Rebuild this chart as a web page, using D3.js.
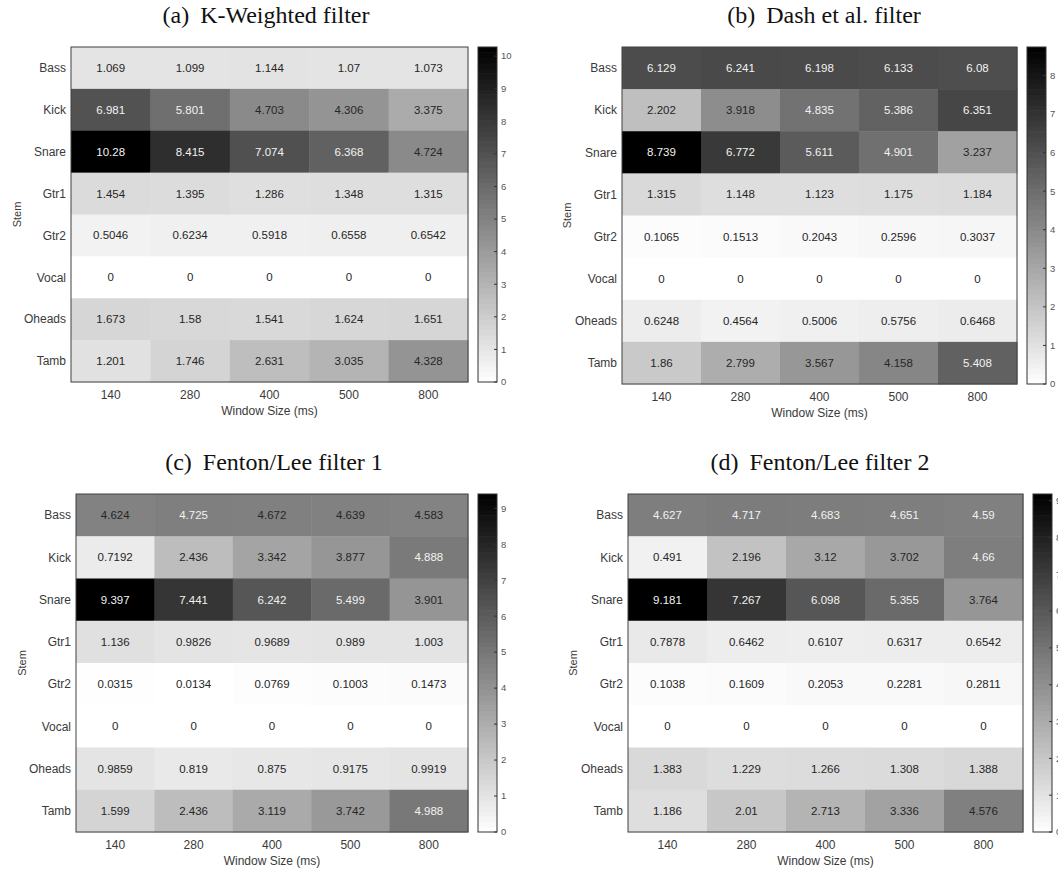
<!DOCTYPE html>
<html>
<head>
<meta charset="utf-8">
<script src="https://cdn.jsdelivr.net/npm/d3@7"></script>
<style>
  html, body { margin: 0; padding: 0; background: #fff; }
  svg { display: block; }
</style>
</head>
<body>
<svg id="fig" width="1058" height="870"></svg>
<script>
// Stems (rows) and analysis window sizes (columns)
const stems = ["Bass", "Kick", "Snare", "Gtr1", "Gtr2", "Vocal", "Oheads", "Tamb"];
const windowSizes = ["140", "280", "400", "500", "800"];

// (a) K-Weighted filter
const kWeighted = [
  [1.069, 1.099, 1.144, 1.07, 1.073],
  [6.981, 5.801, 4.703, 4.306, 3.375],
  [10.28, 8.415, 7.074, 6.368, 4.724],
  [1.454, 1.395, 1.286, 1.348, 1.315],
  [0.5046, 0.6234, 0.5918, 0.6558, 0.6542],
  [0, 0, 0, 0, 0],
  [1.673, 1.58, 1.541, 1.624, 1.651],
  [1.201, 1.746, 2.631, 3.035, 4.328]
];

// (b) Dash et al. filter
const dashFilter = [
  [6.129, 6.241, 6.198, 6.133, 6.08],
  [2.202, 3.918, 4.835, 5.386, 6.351],
  [8.739, 6.772, 5.611, 4.901, 3.237],
  [1.315, 1.148, 1.123, 1.175, 1.184],
  [0.1065, 0.1513, 0.2043, 0.2596, 0.3037],
  [0, 0, 0, 0, 0],
  [0.6248, 0.4564, 0.5006, 0.5756, 0.6468],
  [1.86, 2.799, 3.567, 4.158, 5.408]
];

// (c) Fenton/Lee filter 1
const fentonLee1 = [
  [4.624, 4.725, 4.672, 4.639, 4.583],
  [0.7192, 2.436, 3.342, 3.877, 4.888],
  [9.397, 7.441, 6.242, 5.499, 3.901],
  [1.136, 0.9826, 0.9689, 0.989, 1.003],
  [0.0315, 0.0134, 0.0769, 0.1003, 0.1473],
  [0, 0, 0, 0, 0],
  [0.9859, 0.819, 0.875, 0.9175, 0.9919],
  [1.599, 2.436, 3.119, 3.742, 4.988]
];

// (d) Fenton/Lee filter 2
const fentonLee2 = [
  [4.627, 4.717, 4.683, 4.651, 4.59],
  [0.491, 2.196, 3.12, 3.702, 4.66],
  [9.181, 7.267, 6.098, 5.355, 3.764],
  [0.7878, 0.6462, 0.6107, 0.6317, 0.6542],
  [0.1038, 0.1609, 0.2053, 0.2281, 0.2811],
  [0, 0, 0, 0, 0],
  [1.383, 1.229, 1.266, 1.308, 1.388],
  [1.186, 2.01, 2.713, 3.336, 4.576]
];

const panelTags = ["(a)", "(b)", "(c)", "(d)"];
const panelNames = ["K-Weighted filter", "Dash et al. filter", "Fenton/Lee filter 1", "Fenton/Lee filter 2"];
const panelData = [kWeighted, dashFilter, fentonLee1, fentonLee2];

// Layout of each subplot: heatmap box, colorbar x-extent, title centre, y-label x
const layout = [
  { hm: [71, 47, 468, 382],   cb: [478, 497],   titleX: 266, titleY: 23,  stemX: 17 },
  { hm: [622, 47, 1017, 384], cb: [1027, 1046], titleX: 824, titleY: 23,  stemX: 567 },
  { hm: [76, 494, 468, 832],  cb: [478, 497],   titleX: 274, titleY: 470, stemX: 22 },
  { hm: [628, 494, 1023, 832], cb: [1033, 1052], titleX: 820, titleY: 470, stemX: 573 }
];

const SANS = "'Liberation Sans', Arial, Helvetica, sans-serif";
const SERIF = "'Liberation Serif', 'Times New Roman', serif";

const svg = d3.select("#fig");

panelData.forEach((data, i) => {
  const L = layout[i];
  const [x0, y0, x1, y1] = L.hm;
  const vmax = d3.max(data.flat());
  const g = svg.append("g");

  const x = d3.scaleBand().domain(windowSizes).range([x0, x1]);
  const y = d3.scaleBand().domain(stems).range([y0, y1]);
  // white (0) to black (max) grey ramp
  const shade = d3.scaleLinear().domain([0, vmax]).range([1, 0]).clamp(true);
  const grey = v => { const c = Math.round(shade(v) * 255); return `rgb(${c},${c},${c})`; };

  const cells = [];
  data.forEach((row, r) => row.forEach((v, c) => cells.push({ stem: stems[r], win: windowSizes[c], v })));

  g.selectAll("rect.cell").data(cells).join("rect")
    .attr("class", "cell")
    .attr("x", d => x(d.win))
    .attr("y", d => y(d.stem))
    .attr("width", x.bandwidth() + 0.5)
    .attr("height", y.bandwidth() + 0.5)
    .attr("fill", d => grey(d.v));

  g.selectAll("text.val").data(cells).join("text")
    .attr("class", "val")
    .attr("x", d => x(d.win) + x.bandwidth() / 2)
    .attr("y", d => y(d.stem) + y.bandwidth() / 2)
    .attr("dy", "0.35em")
    .attr("text-anchor", "middle")
    .attr("font-family", SANS)
    .attr("font-size", 11.5)
    .attr("fill", d => d.v / vmax >= 0.499 ? "#f2f2f2" : "#262626")
    .text(d => d.v);

  g.append("rect")
    .attr("x", x0).attr("y", y0)
    .attr("width", x1 - x0).attr("height", y1 - y0)
    .attr("fill", "none").attr("stroke", "#404040").attr("stroke-width", 1);

  // row labels
  g.selectAll("text.row").data(stems).join("text")
    .attr("class", "row")
    .attr("x", x0 - 5)
    .attr("y", d => y(d) + y.bandwidth() / 2)
    .attr("dy", "0.35em")
    .attr("text-anchor", "end")
    .attr("font-family", SANS).attr("font-size", 12).attr("fill", "#3a3a3a")
    .text(d => d);

  // column labels
  g.selectAll("text.col").data(windowSizes).join("text")
    .attr("class", "col")
    .attr("x", d => x(d) + x.bandwidth() / 2)
    .attr("y", y1 + 13)
    .attr("dy", "0.35em")
    .attr("text-anchor", "middle")
    .attr("font-family", SANS).attr("font-size", 12).attr("fill", "#3a3a3a")
    .text(d => d);

  g.append("text")
    .attr("x", (x0 + x1) / 2).attr("y", y1 + 29)
    .attr("dy", "0.35em").attr("text-anchor", "middle")
    .attr("font-family", SANS).attr("font-size", 12).attr("fill", "#3a3a3a")
    .text("Window Size (ms)");

  g.append("text")
    .attr("transform", `translate(${L.stemX},${(y0 + y1) / 2}) rotate(-90)`)
    .attr("dy", "0.35em").attr("text-anchor", "middle")
    .attr("font-family", SANS).attr("font-size", 11).attr("fill", "#3a3a3a")
    .text("Stem");

  // title
  const t = g.append("text")
    .attr("x", L.titleX).attr("y", L.titleY)
    .attr("text-anchor", "middle")
    .attr("font-family", SERIF).attr("font-size", 24).attr("fill", "#111");
  t.append("tspan").text(panelTags[i]);
  t.append("tspan").attr("dx", 11).text(panelNames[i]);

  // colorbar
  const [c0, c1] = L.cb;
  const cy = d3.scaleLinear().domain([0, vmax]).range([y1, y0]);
  const steps = 64;
  const bands = d3.range(steps).map(k => ({ lo: vmax * k / steps, hi: vmax * (k + 1) / steps }));
  g.selectAll("rect.cb").data(bands).join("rect")
    .attr("class", "cb")
    .attr("x", c0).attr("width", c1 - c0)
    .attr("y", d => cy(d.hi))
    .attr("height", d => cy(d.lo) - cy(d.hi) + 0.6)
    .attr("fill", d => grey((d.lo + d.hi) / 2));
  g.append("rect")
    .attr("x", c0).attr("y", y0).attr("width", c1 - c0).attr("height", y1 - y0)
    .attr("fill", "none").attr("stroke", "#333").attr("stroke-width", 1);

  const ticks = cy.ticks(10).filter(v => v <= vmax);
  g.selectAll("line.cbt").data(ticks).join("line")
    .attr("class", "cbt")
    .attr("x1", c1 - 3).attr("x2", c1)
    .attr("y1", d => cy(d)).attr("y2", d => cy(d))
    .attr("stroke", "#333").attr("stroke-width", 1);
  g.selectAll("text.cbl").data(ticks).join("text")
    .attr("class", "cbl")
    .attr("x", c1 + 4).attr("y", d => cy(d))
    .attr("dy", "0.35em")
    .attr("font-family", SANS).attr("font-size", 9.5).attr("fill", "#555")
    .text(d => d);
});
</script>
</body>
</html>
